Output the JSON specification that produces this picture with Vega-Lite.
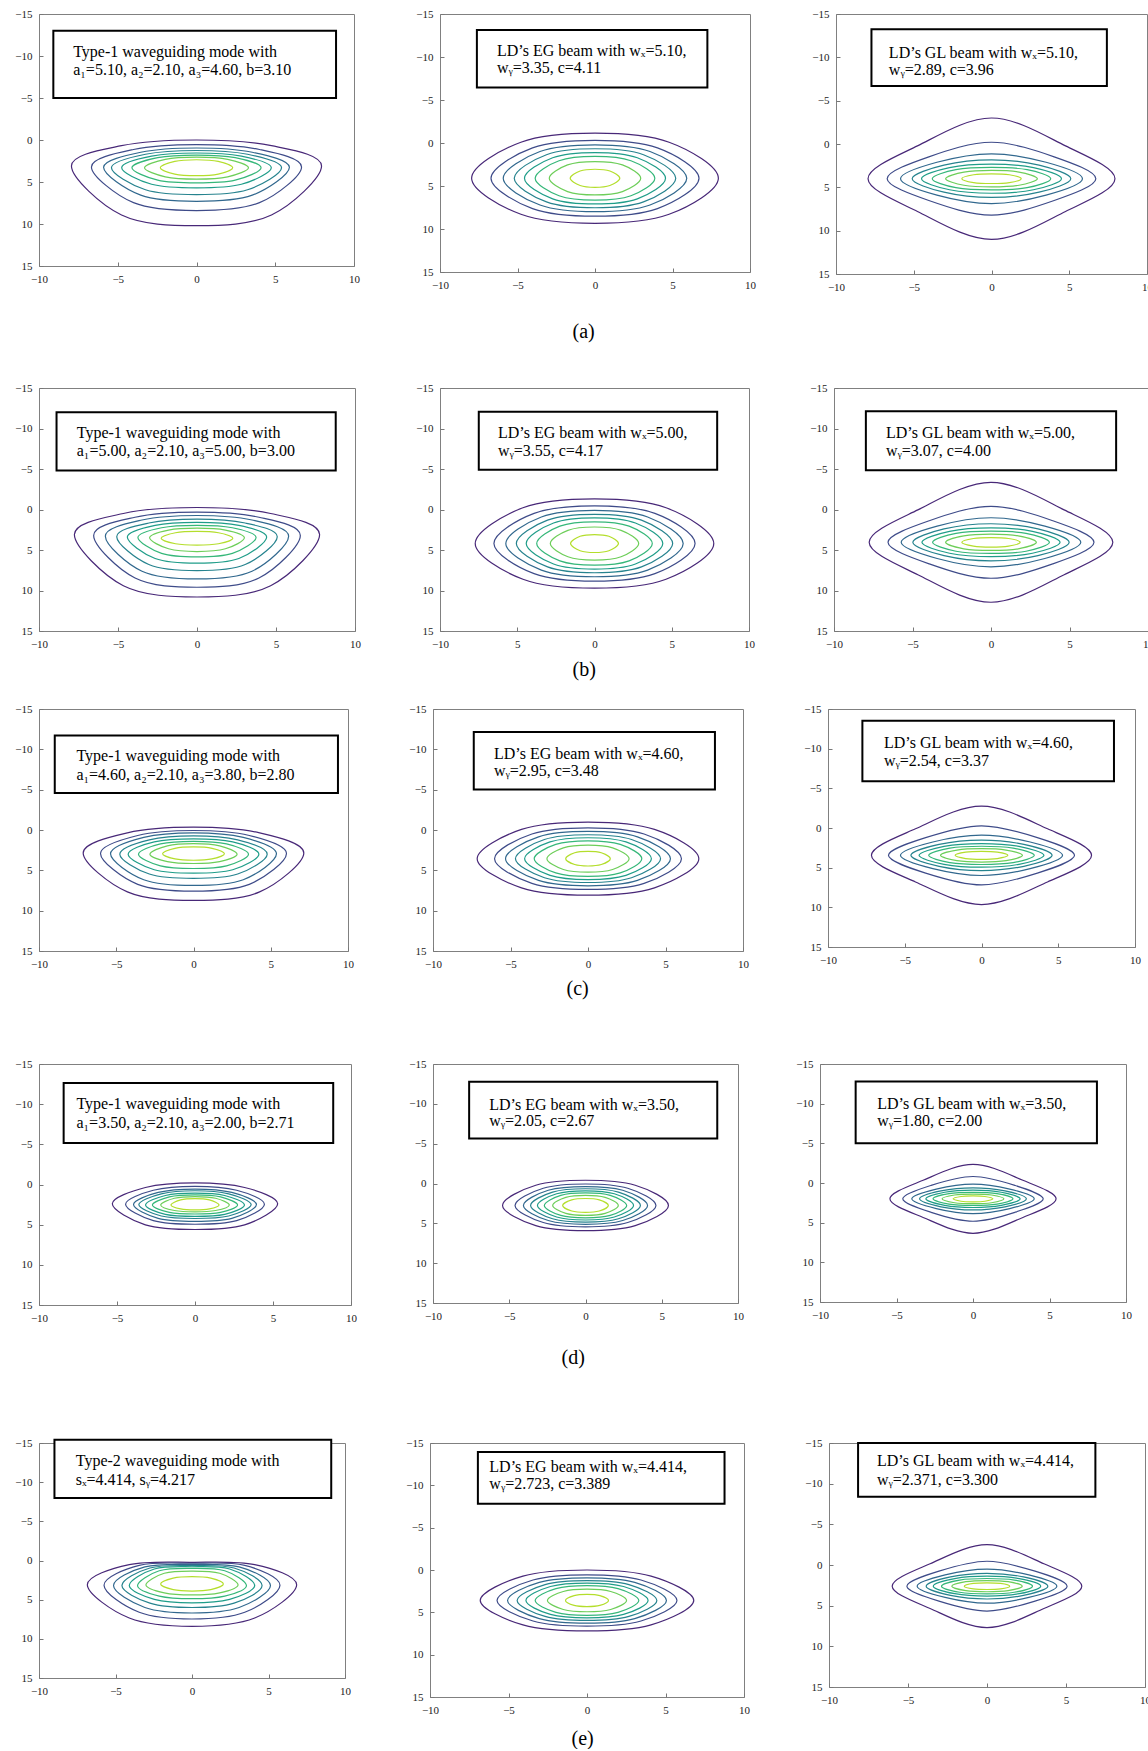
{
"$schema":"https://vega.github.io/schema/vega-lite/v6.json",
"padding":{"left":14,"top":7,"right":0,"bottom":0},
"background":"white",
"config":{
 "view":{"stroke":"#808080","strokeWidth":1},
 "axis":{"domain":false,"grid":false,"tickSize":-4,"tickColor":"#777","labelPadding":11,"labelFont":"Liberation Serif","labelFontSize":11,"labelColor":"#222","labelFlush":false,"labelOverlap":false,"labelBound":false},
 "title":{"font":"Liberation Serif","fontSize":20,"fontWeight":"normal","color":"#000","anchor":"middle"}
},
"datasets":{
"k":[
{"p":"a1","l":0,"x":7.94,"y":3.1},{"p":"a1","l":0,"x":4.76,"y":8.92},{"p":"a1","l":0,"x":0,"y":10.2},{"p":"a1","l":0,"x":-4.76,"y":8.92},{"p":"a1","l":0,"x":-7.94,"y":3.1},{"p":"a1","l":0,"x":-4.76,"y":0.68},{"p":"a1","l":0,"x":0,"y":0},{"p":"a1","l":0,"x":4.76,"y":0.68},
{"p":"a1","l":1,"x":6.67,"y":3.2},{"p":"a1","l":1,"x":4.0,"y":7.46},{"p":"a1","l":1,"x":0,"y":8.4},{"p":"a1","l":1,"x":-4.0,"y":7.46},{"p":"a1","l":1,"x":-6.67,"y":3.2},{"p":"a1","l":1,"x":-4.0,"y":1.13},{"p":"a1","l":1,"x":0,"y":0.55},{"p":"a1","l":1,"x":4.0,"y":1.13},
{"p":"a1","l":2,"x":5.9,"y":3.25},{"p":"a1","l":2,"x":3.54,"y":6.57},{"p":"a1","l":2,"x":0,"y":7.3},{"p":"a1","l":2,"x":-3.54,"y":6.57},{"p":"a1","l":2,"x":-5.9,"y":3.25},{"p":"a1","l":2,"x":-3.54,"y":1.46},{"p":"a1","l":2,"x":0,"y":0.95},{"p":"a1","l":2,"x":3.54,"y":1.46},
{"p":"a1","l":3,"x":5.4,"y":3.3},{"p":"a1","l":3,"x":3.24,"y":5.92},{"p":"a1","l":3,"x":0,"y":6.5},{"p":"a1","l":3,"x":-3.24,"y":5.92},{"p":"a1","l":3,"x":-5.4,"y":3.3},{"p":"a1","l":3,"x":-3.24,"y":1.7},{"p":"a1","l":3,"x":0,"y":1.25},{"p":"a1","l":3,"x":3.24,"y":1.7},
{"p":"a1","l":4,"x":4.75,"y":3.3},{"p":"a1","l":4,"x":2.85,"y":5.27},{"p":"a1","l":4,"x":0,"y":5.7},{"p":"a1","l":4,"x":-2.85,"y":5.27},{"p":"a1","l":4,"x":-4.75,"y":3.3},{"p":"a1","l":4,"x":-2.85,"y":1.93},{"p":"a1","l":4,"x":0,"y":1.55},{"p":"a1","l":4,"x":2.85,"y":1.93},
{"p":"a1","l":5,"x":4.1,"y":3.3},{"p":"a1","l":5,"x":2.46,"y":4.78},{"p":"a1","l":5,"x":0,"y":5.1},{"p":"a1","l":5,"x":-2.46,"y":4.78},{"p":"a1","l":5,"x":-4.1,"y":3.3},{"p":"a1","l":5,"x":-2.46,"y":2.1},{"p":"a1","l":5,"x":0,"y":1.8},{"p":"a1","l":5,"x":2.46,"y":2.1},
{"p":"a1","l":6,"x":3.3,"y":3.3},{"p":"a1","l":6,"x":1.98,"y":4.38},{"p":"a1","l":6,"x":0,"y":4.65},{"p":"a1","l":6,"x":-1.98,"y":4.38},{"p":"a1","l":6,"x":-3.3,"y":3.3},{"p":"a1","l":6,"x":-1.98,"y":2.3},{"p":"a1","l":6,"x":0,"y":2.05},{"p":"a1","l":6,"x":1.98,"y":2.3},
{"p":"a1","l":7,"x":2.3,"y":3.3},{"p":"a1","l":7,"x":1.38,"y":4.06},{"p":"a1","l":7,"x":0,"y":4.25},{"p":"a1","l":7,"x":-1.38,"y":4.06},{"p":"a1","l":7,"x":-2.3,"y":3.3},{"p":"a1","l":7,"x":-1.38,"y":2.54},{"p":"a1","l":7,"x":0,"y":2.35},{"p":"a1","l":7,"x":1.38,"y":2.54},
{"p":"a2","l":0,"x":7.96,"y":4.1},{"p":"a2","l":0,"x":4.78,"y":8.29},{"p":"a2","l":0,"x":0,"y":9.34},{"p":"a2","l":0,"x":-4.78,"y":8.29},{"p":"a2","l":0,"x":-7.96,"y":4.1},{"p":"a2","l":0,"x":-4.78,"y":-0.09},{"p":"a2","l":0,"x":0,"y":-1.14},{"p":"a2","l":0,"x":4.78,"y":-0.09},
{"p":"a2","l":1,"x":6.71,"y":4.1},{"p":"a2","l":1,"x":4.03,"y":7.63},{"p":"a2","l":1,"x":0,"y":8.51},{"p":"a2","l":1,"x":-4.03,"y":7.63},{"p":"a2","l":1,"x":-6.71,"y":4.1},{"p":"a2","l":1,"x":-4.03,"y":0.57},{"p":"a2","l":1,"x":0,"y":-0.31},{"p":"a2","l":1,"x":4.03,"y":0.57},
{"p":"a2","l":2,"x":5.92,"y":4.1},{"p":"a2","l":2,"x":3.55,"y":7.21},{"p":"a2","l":2,"x":0,"y":7.99},{"p":"a2","l":2,"x":-3.55,"y":7.21},{"p":"a2","l":2,"x":-5.92,"y":4.1},{"p":"a2","l":2,"x":-3.55,"y":0.99},{"p":"a2","l":2,"x":0,"y":0.21},{"p":"a2","l":2,"x":3.55,"y":0.99},
{"p":"a2","l":3,"x":5.21,"y":4.1},{"p":"a2","l":3,"x":3.13,"y":6.84},{"p":"a2","l":3,"x":0,"y":7.53},{"p":"a2","l":3,"x":-3.13,"y":6.84},{"p":"a2","l":3,"x":-5.21,"y":4.1},{"p":"a2","l":3,"x":-3.13,"y":1.36},{"p":"a2","l":3,"x":0,"y":0.67},{"p":"a2","l":3,"x":3.13,"y":1.36},
{"p":"a2","l":4,"x":4.55,"y":4.1},{"p":"a2","l":4,"x":2.73,"y":6.49},{"p":"a2","l":4,"x":0,"y":7.09},{"p":"a2","l":4,"x":-2.73,"y":6.49},{"p":"a2","l":4,"x":-4.55,"y":4.1},{"p":"a2","l":4,"x":-2.73,"y":1.71},{"p":"a2","l":4,"x":0,"y":1.11},{"p":"a2","l":4,"x":2.73,"y":1.71},
{"p":"a2","l":5,"x":3.86,"y":4.1},{"p":"a2","l":5,"x":2.32,"y":6.13},{"p":"a2","l":5,"x":0,"y":6.64},{"p":"a2","l":5,"x":-2.32,"y":6.13},{"p":"a2","l":5,"x":-3.86,"y":4.1},{"p":"a2","l":5,"x":-2.32,"y":2.07},{"p":"a2","l":5,"x":0,"y":1.56},{"p":"a2","l":5,"x":2.32,"y":2.07},
{"p":"a2","l":6,"x":2.95,"y":4.1},{"p":"a2","l":6,"x":1.77,"y":5.65},{"p":"a2","l":6,"x":0,"y":6.04},{"p":"a2","l":6,"x":-1.77,"y":5.65},{"p":"a2","l":6,"x":-2.95,"y":4.1},{"p":"a2","l":6,"x":-1.77,"y":2.55},{"p":"a2","l":6,"x":0,"y":2.16},{"p":"a2","l":6,"x":1.77,"y":2.55},
{"p":"a2","l":7,"x":1.6,"y":4.1},{"p":"a2","l":7,"x":0.96,"y":4.94},{"p":"a2","l":7,"x":0,"y":5.15},{"p":"a2","l":7,"x":-0.96,"y":4.94},{"p":"a2","l":7,"x":-1.6,"y":4.1},{"p":"a2","l":7,"x":-0.96,"y":3.26},{"p":"a2","l":7,"x":0,"y":3.05},{"p":"a2","l":7,"x":0.96,"y":3.26},
{"p":"a3","l":0,"x":7.94,"y":4},{"p":"a3","l":0,"x":4.76,"y":7.78},{"p":"a3","l":0,"x":0,"y":11},{"p":"a3","l":0,"x":-4.76,"y":7.78},{"p":"a3","l":0,"x":-7.94,"y":4},{"p":"a3","l":0,"x":-4.76,"y":0.22},{"p":"a3","l":0,"x":0,"y":-3},{"p":"a3","l":0,"x":4.76,"y":0.22},
{"p":"a3","l":1,"x":6.71,"y":4},{"p":"a3","l":1,"x":4.03,"y":6.52},{"p":"a3","l":1,"x":0,"y":8.2},{"p":"a3","l":1,"x":-4.03,"y":6.52},{"p":"a3","l":1,"x":-6.71,"y":4},{"p":"a3","l":1,"x":-4.03,"y":1.48},{"p":"a3","l":1,"x":0,"y":-0.2},{"p":"a3","l":1,"x":4.03,"y":1.48},
{"p":"a3","l":2,"x":5.85,"y":4},{"p":"a3","l":2,"x":3.51,"y":5.89},{"p":"a3","l":2,"x":0,"y":6.87},{"p":"a3","l":2,"x":-3.51,"y":5.89},{"p":"a3","l":2,"x":-5.85,"y":4},{"p":"a3","l":2,"x":-3.51,"y":2.11},{"p":"a3","l":2,"x":0,"y":1.13},{"p":"a3","l":2,"x":3.51,"y":2.11},
{"p":"a3","l":3,"x":5.1,"y":4},{"p":"a3","l":3,"x":3.06,"y":5.56},{"p":"a3","l":3,"x":0,"y":6.17},{"p":"a3","l":3,"x":-3.06,"y":5.56},{"p":"a3","l":3,"x":-5.1,"y":4},{"p":"a3","l":3,"x":-3.06,"y":2.44},{"p":"a3","l":3,"x":0,"y":1.83},{"p":"a3","l":3,"x":3.06,"y":2.44},
{"p":"a3","l":4,"x":4.5,"y":4},{"p":"a3","l":4,"x":2.7,"y":5.28},{"p":"a3","l":4,"x":0,"y":5.68},{"p":"a3","l":4,"x":-2.7,"y":5.28},{"p":"a3","l":4,"x":-4.5,"y":4},{"p":"a3","l":4,"x":-2.7,"y":2.72},{"p":"a3","l":4,"x":0,"y":2.32},{"p":"a3","l":4,"x":2.7,"y":2.72},
{"p":"a3","l":5,"x":3.81,"y":4},{"p":"a3","l":5,"x":2.29,"y":5.04},{"p":"a3","l":5,"x":0,"y":5.3},{"p":"a3","l":5,"x":-2.29,"y":5.04},{"p":"a3","l":5,"x":-3.81,"y":4},{"p":"a3","l":5,"x":-2.29,"y":2.96},{"p":"a3","l":5,"x":0,"y":2.7},{"p":"a3","l":5,"x":2.29,"y":2.96},
{"p":"a3","l":6,"x":2.95,"y":4},{"p":"a3","l":6,"x":1.77,"y":4.76},{"p":"a3","l":6,"x":0,"y":4.95},{"p":"a3","l":6,"x":-1.77,"y":4.76},{"p":"a3","l":6,"x":-2.95,"y":4},{"p":"a3","l":6,"x":-1.77,"y":3.24},{"p":"a3","l":6,"x":0,"y":3.05},{"p":"a3","l":6,"x":1.77,"y":3.24},
{"p":"a3","l":7,"x":1.91,"y":4},{"p":"a3","l":7,"x":1.15,"y":4.45},{"p":"a3","l":7,"x":0,"y":4.56},{"p":"a3","l":7,"x":-1.15,"y":4.45},{"p":"a3","l":7,"x":-1.91,"y":4},{"p":"a3","l":7,"x":-1.15,"y":3.55},{"p":"a3","l":7,"x":0,"y":3.44},{"p":"a3","l":7,"x":1.15,"y":3.55},
{"p":"b1","l":0,"x":7.76,"y":3.1},{"p":"b1","l":0,"x":4.66,"y":9.41},{"p":"b1","l":0,"x":0,"y":10.8},{"p":"b1","l":0,"x":-4.66,"y":9.41},{"p":"b1","l":0,"x":-7.76,"y":3.1},{"p":"b1","l":0,"x":-4.66,"y":0.49},{"p":"b1","l":0,"x":0,"y":-0.25},{"p":"b1","l":0,"x":4.66,"y":0.49},
{"p":"b1","l":1,"x":6.54,"y":3.2},{"p":"b1","l":1,"x":3.92,"y":8.45},{"p":"b1","l":1,"x":0,"y":9.6},{"p":"b1","l":1,"x":-3.92,"y":8.45},{"p":"b1","l":1,"x":-6.54,"y":3.2},{"p":"b1","l":1,"x":-3.92,"y":0.96},{"p":"b1","l":1,"x":0,"y":0.33},{"p":"b1","l":1,"x":3.92,"y":0.96},
{"p":"b1","l":2,"x":5.8,"y":3.3},{"p":"b1","l":2,"x":3.48,"y":7.62},{"p":"b1","l":2,"x":0,"y":8.57},{"p":"b1","l":2,"x":-3.48,"y":7.62},{"p":"b1","l":2,"x":-5.8,"y":3.3},{"p":"b1","l":2,"x":-3.48,"y":1.3},{"p":"b1","l":2,"x":0,"y":0.74},{"p":"b1","l":2,"x":3.48,"y":1.3},
{"p":"b1","l":3,"x":5.08,"y":3.35},{"p":"b1","l":3,"x":3.05,"y":6.79},{"p":"b1","l":3,"x":0,"y":7.55},{"p":"b1","l":3,"x":-3.05,"y":6.79},{"p":"b1","l":3,"x":-5.08,"y":3.35},{"p":"b1","l":3,"x":-3.05,"y":1.67},{"p":"b1","l":3,"x":0,"y":1.2},{"p":"b1","l":3,"x":3.05,"y":1.67},
{"p":"b1","l":4,"x":4.41,"y":3.4},{"p":"b1","l":4,"x":2.65,"y":6.05},{"p":"b1","l":4,"x":0,"y":6.63},{"p":"b1","l":4,"x":-2.65,"y":6.05},{"p":"b1","l":4,"x":-4.41,"y":3.4},{"p":"b1","l":4,"x":-2.65,"y":1.96},{"p":"b1","l":4,"x":0,"y":1.6},{"p":"b1","l":4,"x":2.65,"y":1.96},
{"p":"b1","l":5,"x":3.74,"y":3.45},{"p":"b1","l":5,"x":2.24,"y":5.42},{"p":"b1","l":5,"x":0,"y":5.85},{"p":"b1","l":5,"x":-2.24,"y":5.42},{"p":"b1","l":5,"x":-3.74,"y":3.45},{"p":"b1","l":5,"x":-2.24,"y":2.25},{"p":"b1","l":5,"x":0,"y":1.95},{"p":"b1","l":5,"x":2.24,"y":2.25},
{"p":"b1","l":6,"x":3.0,"y":3.5},{"p":"b1","l":6,"x":1.8,"y":4.85},{"p":"b1","l":6,"x":0,"y":5.19},{"p":"b1","l":6,"x":-1.8,"y":4.85},{"p":"b1","l":6,"x":-3.0,"y":3.5},{"p":"b1","l":6,"x":-1.8,"y":2.54},{"p":"b1","l":6,"x":0,"y":2.3},{"p":"b1","l":6,"x":1.8,"y":2.54},
{"p":"b1","l":7,"x":2.27,"y":3.55},{"p":"b1","l":7,"x":1.36,"y":4.23},{"p":"b1","l":7,"x":0,"y":4.4},{"p":"b1","l":7,"x":-1.36,"y":4.23},{"p":"b1","l":7,"x":-2.27,"y":3.55},{"p":"b1","l":7,"x":-1.36,"y":2.87},{"p":"b1","l":7,"x":0,"y":2.7},{"p":"b1","l":7,"x":1.36,"y":2.87},
{"p":"b2","l":0,"x":7.72,"y":4.2},{"p":"b2","l":0,"x":4.63,"y":8.61},{"p":"b2","l":0,"x":0,"y":9.71},{"p":"b2","l":0,"x":-4.63,"y":8.61},{"p":"b2","l":0,"x":-7.72,"y":4.2},{"p":"b2","l":0,"x":-4.63,"y":-0.21},{"p":"b2","l":0,"x":0,"y":-1.31},{"p":"b2","l":0,"x":4.63,"y":-0.21},
{"p":"b2","l":1,"x":6.51,"y":4.2},{"p":"b2","l":1,"x":3.91,"y":7.92},{"p":"b2","l":1,"x":0,"y":8.85},{"p":"b2","l":1,"x":-3.91,"y":7.92},{"p":"b2","l":1,"x":-6.51,"y":4.2},{"p":"b2","l":1,"x":-3.91,"y":0.48},{"p":"b2","l":1,"x":0,"y":-0.45},{"p":"b2","l":1,"x":3.91,"y":0.48},
{"p":"b2","l":2,"x":5.74,"y":4.2},{"p":"b2","l":2,"x":3.44,"y":7.48},{"p":"b2","l":2,"x":0,"y":8.3},{"p":"b2","l":2,"x":-3.44,"y":7.48},{"p":"b2","l":2,"x":-5.74,"y":4.2},{"p":"b2","l":2,"x":-3.44,"y":0.92},{"p":"b2","l":2,"x":0,"y":0.1},{"p":"b2","l":2,"x":3.44,"y":0.92},
{"p":"b2","l":3,"x":5.06,"y":4.2},{"p":"b2","l":3,"x":3.04,"y":7.09},{"p":"b2","l":3,"x":0,"y":7.81},{"p":"b2","l":3,"x":-3.04,"y":7.09},{"p":"b2","l":3,"x":-5.06,"y":4.2},{"p":"b2","l":3,"x":-3.04,"y":1.31},{"p":"b2","l":3,"x":0,"y":0.59},{"p":"b2","l":3,"x":3.04,"y":1.31},
{"p":"b2","l":4,"x":4.42,"y":4.2},{"p":"b2","l":4,"x":2.65,"y":6.73},{"p":"b2","l":4,"x":0,"y":7.36},{"p":"b2","l":4,"x":-2.65,"y":6.73},{"p":"b2","l":4,"x":-4.42,"y":4.2},{"p":"b2","l":4,"x":-2.65,"y":1.67},{"p":"b2","l":4,"x":0,"y":1.04},{"p":"b2","l":4,"x":2.65,"y":1.67},
{"p":"b2","l":5,"x":3.74,"y":4.2},{"p":"b2","l":5,"x":2.24,"y":6.34},{"p":"b2","l":5,"x":0,"y":6.87},{"p":"b2","l":5,"x":-2.24,"y":6.34},{"p":"b2","l":5,"x":-3.74,"y":4.2},{"p":"b2","l":5,"x":-2.24,"y":2.06},{"p":"b2","l":5,"x":0,"y":1.53},{"p":"b2","l":5,"x":2.24,"y":2.06},
{"p":"b2","l":6,"x":2.86,"y":4.2},{"p":"b2","l":6,"x":1.72,"y":5.83},{"p":"b2","l":6,"x":0,"y":6.24},{"p":"b2","l":6,"x":-1.72,"y":5.83},{"p":"b2","l":6,"x":-2.86,"y":4.2},{"p":"b2","l":6,"x":-1.72,"y":2.57},{"p":"b2","l":6,"x":0,"y":2.16},{"p":"b2","l":6,"x":1.72,"y":2.57},
{"p":"b2","l":7,"x":1.55,"y":4.2},{"p":"b2","l":7,"x":0.93,"y":5.09},{"p":"b2","l":7,"x":0,"y":5.31},{"p":"b2","l":7,"x":-0.93,"y":5.09},{"p":"b2","l":7,"x":-1.55,"y":4.2},{"p":"b2","l":7,"x":-0.93,"y":3.31},{"p":"b2","l":7,"x":0,"y":3.09},{"p":"b2","l":7,"x":0.93,"y":3.31},
{"p":"b3","l":0,"x":7.76,"y":4.05},{"p":"b3","l":0,"x":4.66,"y":8.05},{"p":"b3","l":0,"x":0,"y":11.45},{"p":"b3","l":0,"x":-4.66,"y":8.05},{"p":"b3","l":0,"x":-7.76,"y":4.05},{"p":"b3","l":0,"x":-4.66,"y":0.05},{"p":"b3","l":0,"x":0,"y":-3.35},{"p":"b3","l":0,"x":4.66,"y":0.05},
{"p":"b3","l":1,"x":6.56,"y":4.05},{"p":"b3","l":1,"x":3.94,"y":6.71},{"p":"b3","l":1,"x":0,"y":8.49},{"p":"b3","l":1,"x":-3.94,"y":6.71},{"p":"b3","l":1,"x":-6.56,"y":4.05},{"p":"b3","l":1,"x":-3.94,"y":1.39},{"p":"b3","l":1,"x":0,"y":-0.39},{"p":"b3","l":1,"x":3.94,"y":1.39},
{"p":"b3","l":2,"x":5.72,"y":4.05},{"p":"b3","l":2,"x":3.43,"y":6.05},{"p":"b3","l":2,"x":0,"y":7.08},{"p":"b3","l":2,"x":-3.43,"y":6.05},{"p":"b3","l":2,"x":-5.72,"y":4.05},{"p":"b3","l":2,"x":-3.43,"y":2.05},{"p":"b3","l":2,"x":0,"y":1.02},{"p":"b3","l":2,"x":3.43,"y":2.05},
{"p":"b3","l":3,"x":4.98,"y":4.05},{"p":"b3","l":3,"x":2.99,"y":5.7},{"p":"b3","l":3,"x":0,"y":6.34},{"p":"b3","l":3,"x":-2.99,"y":5.7},{"p":"b3","l":3,"x":-4.98,"y":4.05},{"p":"b3","l":3,"x":-2.99,"y":2.4},{"p":"b3","l":3,"x":0,"y":1.76},{"p":"b3","l":3,"x":2.99,"y":2.4},
{"p":"b3","l":4,"x":4.4,"y":4.05},{"p":"b3","l":4,"x":2.64,"y":5.4},{"p":"b3","l":4,"x":0,"y":5.83},{"p":"b3","l":4,"x":-2.64,"y":5.4},{"p":"b3","l":4,"x":-4.4,"y":4.05},{"p":"b3","l":4,"x":-2.64,"y":2.7},{"p":"b3","l":4,"x":0,"y":2.27},{"p":"b3","l":4,"x":2.64,"y":2.7},
{"p":"b3","l":5,"x":3.72,"y":4.05},{"p":"b3","l":5,"x":2.23,"y":5.15},{"p":"b3","l":5,"x":0,"y":5.42},{"p":"b3","l":5,"x":-2.23,"y":5.15},{"p":"b3","l":5,"x":-3.72,"y":4.05},{"p":"b3","l":5,"x":-2.23,"y":2.95},{"p":"b3","l":5,"x":0,"y":2.68},{"p":"b3","l":5,"x":2.23,"y":2.95},
{"p":"b3","l":6,"x":2.89,"y":4.05},{"p":"b3","l":6,"x":1.73,"y":4.85},{"p":"b3","l":6,"x":0,"y":5.05},{"p":"b3","l":6,"x":-1.73,"y":4.85},{"p":"b3","l":6,"x":-2.89,"y":4.05},{"p":"b3","l":6,"x":-1.73,"y":3.25},{"p":"b3","l":6,"x":0,"y":3.05},{"p":"b3","l":6,"x":1.73,"y":3.25},
{"p":"b3","l":7,"x":1.86,"y":4.05},{"p":"b3","l":7,"x":1.12,"y":4.52},{"p":"b3","l":7,"x":0,"y":4.64},{"p":"b3","l":7,"x":-1.12,"y":4.52},{"p":"b3","l":7,"x":-1.86,"y":4.05},{"p":"b3","l":7,"x":-1.12,"y":3.58},{"p":"b3","l":7,"x":0,"y":3.46},{"p":"b3","l":7,"x":1.12,"y":3.58},
{"p":"c1","l":0,"x":7.14,"y":2.85},{"p":"c1","l":0,"x":4.28,"y":7.67},{"p":"c1","l":0,"x":0,"y":8.73},{"p":"c1","l":0,"x":-4.28,"y":7.67},{"p":"c1","l":0,"x":-7.14,"y":2.85},{"p":"c1","l":0,"x":-4.28,"y":0.35},{"p":"c1","l":0,"x":0,"y":-0.35},{"p":"c1","l":0,"x":4.28,"y":0.35},
{"p":"c1","l":1,"x":6.02,"y":2.9},{"p":"c1","l":1,"x":3.61,"y":6.74},{"p":"c1","l":1,"x":0,"y":7.58},{"p":"c1","l":1,"x":-3.61,"y":6.74},{"p":"c1","l":1,"x":-6.02,"y":2.9},{"p":"c1","l":1,"x":-3.61,"y":0.68},{"p":"c1","l":1,"x":0,"y":0.06},{"p":"c1","l":1,"x":3.61,"y":0.68},
{"p":"c1","l":2,"x":5.37,"y":2.95},{"p":"c1","l":2,"x":3.22,"y":6.16},{"p":"c1","l":2,"x":0,"y":6.87},{"p":"c1","l":2,"x":-3.22,"y":6.16},{"p":"c1","l":2,"x":-5.37,"y":2.95},{"p":"c1","l":2,"x":-3.22,"y":0.92},{"p":"c1","l":2,"x":0,"y":0.35},{"p":"c1","l":2,"x":3.22,"y":0.92},
{"p":"c1","l":3,"x":4.77,"y":3.0},{"p":"c1","l":3,"x":2.86,"y":5.46},{"p":"c1","l":3,"x":0,"y":6.0},{"p":"c1","l":3,"x":-2.86,"y":5.46},{"p":"c1","l":3,"x":-4.77,"y":3.0},{"p":"c1","l":3,"x":-2.86,"y":1.22},{"p":"c1","l":3,"x":0,"y":0.72},{"p":"c1","l":3,"x":2.86,"y":1.22},
{"p":"c1","l":4,"x":4.23,"y":3.0},{"p":"c1","l":4,"x":2.54,"y":4.93},{"p":"c1","l":4,"x":0,"y":5.35},{"p":"c1","l":4,"x":-2.54,"y":4.93},{"p":"c1","l":4,"x":-4.23,"y":3.0},{"p":"c1","l":4,"x":-2.54,"y":1.48},{"p":"c1","l":4,"x":0,"y":1.1},{"p":"c1","l":4,"x":2.54,"y":1.48},
{"p":"c1","l":5,"x":3.56,"y":3.0},{"p":"c1","l":5,"x":2.14,"y":4.45},{"p":"c1","l":5,"x":0,"y":4.77},{"p":"c1","l":5,"x":-2.14,"y":4.45},{"p":"c1","l":5,"x":-3.56,"y":3.0},{"p":"c1","l":5,"x":-2.14,"y":1.72},{"p":"c1","l":5,"x":0,"y":1.4},{"p":"c1","l":5,"x":2.14,"y":1.72},
{"p":"c1","l":6,"x":2.82,"y":3.0},{"p":"c1","l":6,"x":1.69,"y":3.92},{"p":"c1","l":6,"x":0,"y":4.15},{"p":"c1","l":6,"x":-1.69,"y":3.92},{"p":"c1","l":6,"x":-2.82,"y":3.0},{"p":"c1","l":6,"x":-1.69,"y":1.96},{"p":"c1","l":6,"x":0,"y":1.7},{"p":"c1","l":6,"x":1.69,"y":1.96},
{"p":"c1","l":7,"x":2.0,"y":2.95},{"p":"c1","l":7,"x":1.2,"y":3.59},{"p":"c1","l":7,"x":0,"y":3.75},{"p":"c1","l":7,"x":-1.2,"y":3.59},{"p":"c1","l":7,"x":-2.0,"y":2.95},{"p":"c1","l":7,"x":-1.2,"y":2.27},{"p":"c1","l":7,"x":0,"y":2.1},{"p":"c1","l":7,"x":1.2,"y":2.27},
{"p":"c2","l":0,"x":7.15,"y":3.55},{"p":"c2","l":0,"x":4.29,"y":7.17},{"p":"c2","l":0,"x":0,"y":8.08},{"p":"c2","l":0,"x":-4.29,"y":7.17},{"p":"c2","l":0,"x":-7.15,"y":3.55},{"p":"c2","l":0,"x":-4.29,"y":-0.07},{"p":"c2","l":0,"x":0,"y":-0.98},{"p":"c2","l":0,"x":4.29,"y":-0.07},
{"p":"c2","l":1,"x":6.03,"y":3.55},{"p":"c2","l":1,"x":3.62,"y":6.61},{"p":"c2","l":1,"x":0,"y":7.37},{"p":"c2","l":1,"x":-3.62,"y":6.61},{"p":"c2","l":1,"x":-6.03,"y":3.55},{"p":"c2","l":1,"x":-3.62,"y":0.49},{"p":"c2","l":1,"x":0,"y":-0.27},{"p":"c2","l":1,"x":3.62,"y":0.49},
{"p":"c2","l":2,"x":5.32,"y":3.55},{"p":"c2","l":2,"x":3.19,"y":6.25},{"p":"c2","l":2,"x":0,"y":6.92},{"p":"c2","l":2,"x":-3.19,"y":6.25},{"p":"c2","l":2,"x":-5.32,"y":3.55},{"p":"c2","l":2,"x":-3.19,"y":0.85},{"p":"c2","l":2,"x":0,"y":0.18},{"p":"c2","l":2,"x":3.19,"y":0.85},
{"p":"c2","l":3,"x":4.68,"y":3.55},{"p":"c2","l":3,"x":2.81,"y":5.92},{"p":"c2","l":3,"x":0,"y":6.51},{"p":"c2","l":3,"x":-2.81,"y":5.92},{"p":"c2","l":3,"x":-4.68,"y":3.55},{"p":"c2","l":3,"x":-2.81,"y":1.18},{"p":"c2","l":3,"x":0,"y":0.59},{"p":"c2","l":3,"x":2.81,"y":1.18},
{"p":"c2","l":4,"x":4.09,"y":3.55},{"p":"c2","l":4,"x":2.45,"y":5.62},{"p":"c2","l":4,"x":0,"y":6.14},{"p":"c2","l":4,"x":-2.45,"y":5.62},{"p":"c2","l":4,"x":-4.09,"y":3.55},{"p":"c2","l":4,"x":-2.45,"y":1.48},{"p":"c2","l":4,"x":0,"y":0.96},{"p":"c2","l":4,"x":2.45,"y":1.48},
{"p":"c2","l":5,"x":3.47,"y":3.55},{"p":"c2","l":5,"x":2.08,"y":5.31},{"p":"c2","l":5,"x":0,"y":5.75},{"p":"c2","l":5,"x":-2.08,"y":5.31},{"p":"c2","l":5,"x":-3.47,"y":3.55},{"p":"c2","l":5,"x":-2.08,"y":1.79},{"p":"c2","l":5,"x":0,"y":1.35},{"p":"c2","l":5,"x":2.08,"y":1.79},
{"p":"c2","l":6,"x":2.65,"y":3.55},{"p":"c2","l":6,"x":1.59,"y":4.89},{"p":"c2","l":6,"x":0,"y":5.23},{"p":"c2","l":6,"x":-1.59,"y":4.89},{"p":"c2","l":6,"x":-2.65,"y":3.55},{"p":"c2","l":6,"x":-1.59,"y":2.21},{"p":"c2","l":6,"x":0,"y":1.87},{"p":"c2","l":6,"x":1.59,"y":2.21},
{"p":"c2","l":7,"x":1.44,"y":3.55},{"p":"c2","l":7,"x":0.86,"y":4.28},{"p":"c2","l":7,"x":0,"y":4.46},{"p":"c2","l":7,"x":-0.86,"y":4.28},{"p":"c2","l":7,"x":-1.44,"y":3.55},{"p":"c2","l":7,"x":-0.86,"y":2.82},{"p":"c2","l":7,"x":0,"y":2.64},{"p":"c2","l":7,"x":0.86,"y":2.82},
{"p":"c3","l":0,"x":7.17,"y":3.45},{"p":"c3","l":0,"x":4.3,"y":6.8},{"p":"c3","l":0,"x":0,"y":9.65},{"p":"c3","l":0,"x":-4.3,"y":6.8},{"p":"c3","l":0,"x":-7.17,"y":3.45},{"p":"c3","l":0,"x":-4.3,"y":0.1},{"p":"c3","l":0,"x":0,"y":-2.75},{"p":"c3","l":0,"x":4.3,"y":0.1},
{"p":"c3","l":1,"x":6.06,"y":3.45},{"p":"c3","l":1,"x":3.64,"y":5.68},{"p":"c3","l":1,"x":0,"y":7.17},{"p":"c3","l":1,"x":-3.64,"y":5.68},{"p":"c3","l":1,"x":-6.06,"y":3.45},{"p":"c3","l":1,"x":-3.64,"y":1.22},{"p":"c3","l":1,"x":0,"y":-0.27},{"p":"c3","l":1,"x":3.64,"y":1.22},
{"p":"c3","l":2,"x":5.28,"y":3.45},{"p":"c3","l":2,"x":3.17,"y":5.13},{"p":"c3","l":2,"x":0,"y":5.99},{"p":"c3","l":2,"x":-3.17,"y":5.13},{"p":"c3","l":2,"x":-5.28,"y":3.45},{"p":"c3","l":2,"x":-3.17,"y":1.77},{"p":"c3","l":2,"x":0,"y":0.91},{"p":"c3","l":2,"x":3.17,"y":1.77},
{"p":"c3","l":3,"x":4.6,"y":3.45},{"p":"c3","l":3,"x":2.76,"y":4.83},{"p":"c3","l":3,"x":0,"y":5.37},{"p":"c3","l":3,"x":-2.76,"y":4.83},{"p":"c3","l":3,"x":-4.6,"y":3.45},{"p":"c3","l":3,"x":-2.76,"y":2.07},{"p":"c3","l":3,"x":0,"y":1.53},{"p":"c3","l":3,"x":2.76,"y":2.07},
{"p":"c3","l":4,"x":4.07,"y":3.45},{"p":"c3","l":4,"x":2.44,"y":4.58},{"p":"c3","l":4,"x":0,"y":4.94},{"p":"c3","l":4,"x":-2.44,"y":4.58},{"p":"c3","l":4,"x":-4.07,"y":3.45},{"p":"c3","l":4,"x":-2.44,"y":2.32},{"p":"c3","l":4,"x":0,"y":1.96},{"p":"c3","l":4,"x":2.44,"y":2.32},
{"p":"c3","l":5,"x":3.44,"y":3.45},{"p":"c3","l":5,"x":2.06,"y":4.37},{"p":"c3","l":5,"x":0,"y":4.6},{"p":"c3","l":5,"x":-2.06,"y":4.37},{"p":"c3","l":5,"x":-3.44,"y":3.45},{"p":"c3","l":5,"x":-2.06,"y":2.53},{"p":"c3","l":5,"x":0,"y":2.3},{"p":"c3","l":5,"x":2.06,"y":2.53},
{"p":"c3","l":6,"x":2.67,"y":3.45},{"p":"c3","l":6,"x":1.6,"y":4.12},{"p":"c3","l":6,"x":0,"y":4.29},{"p":"c3","l":6,"x":-1.6,"y":4.12},{"p":"c3","l":6,"x":-2.67,"y":3.45},{"p":"c3","l":6,"x":-1.6,"y":2.78},{"p":"c3","l":6,"x":0,"y":2.61},{"p":"c3","l":6,"x":1.6,"y":2.78},
{"p":"c3","l":7,"x":1.72,"y":3.45},{"p":"c3","l":7,"x":1.03,"y":3.85},{"p":"c3","l":7,"x":0,"y":3.95},{"p":"c3","l":7,"x":-1.03,"y":3.85},{"p":"c3","l":7,"x":-1.72,"y":3.45},{"p":"c3","l":7,"x":-1.03,"y":3.05},{"p":"c3","l":7,"x":0,"y":2.95},{"p":"c3","l":7,"x":1.03,"y":3.05},
{"p":"d1","l":0,"x":5.3,"y":2.4},{"p":"d1","l":0,"x":3.18,"y":5.02},{"p":"d1","l":0,"x":0,"y":5.6},{"p":"d1","l":0,"x":-3.18,"y":5.02},{"p":"d1","l":0,"x":-5.3,"y":2.4},{"p":"d1","l":0,"x":-3.18,"y":0.37},{"p":"d1","l":0,"x":0,"y":-0.2},{"p":"d1","l":0,"x":3.18,"y":0.37},
{"p":"d1","l":1,"x":4.45,"y":2.45},{"p":"d1","l":1,"x":2.67,"y":4.5},{"p":"d1","l":1,"x":0,"y":4.95},{"p":"d1","l":1,"x":-2.67,"y":4.5},{"p":"d1","l":1,"x":-4.45,"y":2.45},{"p":"d1","l":1,"x":-2.67,"y":0.72},{"p":"d1","l":1,"x":0,"y":0.23},{"p":"d1","l":1,"x":2.67,"y":0.72},
{"p":"d1","l":2,"x":3.94,"y":2.5},{"p":"d1","l":2,"x":2.36,"y":4.21},{"p":"d1","l":2,"x":0,"y":4.58},{"p":"d1","l":2,"x":-2.36,"y":4.21},{"p":"d1","l":2,"x":-3.94,"y":2.5},{"p":"d1","l":2,"x":-2.36,"y":0.99},{"p":"d1","l":2,"x":0,"y":0.57},{"p":"d1","l":2,"x":2.36,"y":0.99},
{"p":"d1","l":3,"x":3.6,"y":2.5},{"p":"d1","l":3,"x":2.16,"y":3.92},{"p":"d1","l":3,"x":0,"y":4.23},{"p":"d1","l":3,"x":-2.16,"y":3.92},{"p":"d1","l":3,"x":-3.6,"y":2.5},{"p":"d1","l":3,"x":-2.16,"y":1.16},{"p":"d1","l":3,"x":0,"y":0.78},{"p":"d1","l":3,"x":2.16,"y":1.16},
{"p":"d1","l":4,"x":3.17,"y":2.55},{"p":"d1","l":4,"x":1.9,"y":3.71},{"p":"d1","l":4,"x":0,"y":3.96},{"p":"d1","l":4,"x":-1.9,"y":3.71},{"p":"d1","l":4,"x":-3.17,"y":2.55},{"p":"d1","l":4,"x":-1.9,"y":1.37},{"p":"d1","l":4,"x":0,"y":1.08},{"p":"d1","l":4,"x":1.9,"y":1.37},
{"p":"d1","l":5,"x":2.73,"y":2.55},{"p":"d1","l":5,"x":1.64,"y":3.47},{"p":"d1","l":5,"x":0,"y":3.67},{"p":"d1","l":5,"x":-1.64,"y":3.47},{"p":"d1","l":5,"x":-2.73,"y":2.55},{"p":"d1","l":5,"x":-1.64,"y":1.54},{"p":"d1","l":5,"x":0,"y":1.29},{"p":"d1","l":5,"x":1.64,"y":1.54},
{"p":"d1","l":6,"x":2.2,"y":2.55},{"p":"d1","l":6,"x":1.32,"y":3.24},{"p":"d1","l":6,"x":0,"y":3.41},{"p":"d1","l":6,"x":-1.32,"y":3.24},{"p":"d1","l":6,"x":-2.2,"y":2.55},{"p":"d1","l":6,"x":-1.32,"y":1.71},{"p":"d1","l":6,"x":0,"y":1.5},{"p":"d1","l":6,"x":1.32,"y":1.71},
{"p":"d1","l":7,"x":1.54,"y":2.55},{"p":"d1","l":7,"x":0.92,"y":3.04},{"p":"d1","l":7,"x":0,"y":3.16},{"p":"d1","l":7,"x":-0.92,"y":3.04},{"p":"d1","l":7,"x":-1.54,"y":2.55},{"p":"d1","l":7,"x":-0.92,"y":1.91},{"p":"d1","l":7,"x":0,"y":1.75},{"p":"d1","l":7,"x":0.92,"y":1.91},
{"p":"d2","l":0,"x":5.44,"y":2.75},{"p":"d2","l":0,"x":3.26,"y":5.28},{"p":"d2","l":0,"x":0,"y":5.91},{"p":"d2","l":0,"x":-3.26,"y":5.28},{"p":"d2","l":0,"x":-5.44,"y":2.75},{"p":"d2","l":0,"x":-3.26,"y":0.22},{"p":"d2","l":0,"x":0,"y":-0.41},{"p":"d2","l":0,"x":3.26,"y":0.22},
{"p":"d2","l":1,"x":4.62,"y":2.75},{"p":"d2","l":1,"x":2.77,"y":4.9},{"p":"d2","l":1,"x":0,"y":5.44},{"p":"d2","l":1,"x":-2.77,"y":4.9},{"p":"d2","l":1,"x":-4.62,"y":2.75},{"p":"d2","l":1,"x":-2.77,"y":0.6},{"p":"d2","l":1,"x":0,"y":0.06},{"p":"d2","l":1,"x":2.77,"y":0.6},
{"p":"d2","l":2,"x":4.07,"y":2.75},{"p":"d2","l":2,"x":2.44,"y":4.65},{"p":"d2","l":2,"x":0,"y":5.12},{"p":"d2","l":2,"x":-2.44,"y":4.65},{"p":"d2","l":2,"x":-4.07,"y":2.75},{"p":"d2","l":2,"x":-2.44,"y":0.85},{"p":"d2","l":2,"x":0,"y":0.38},{"p":"d2","l":2,"x":2.44,"y":0.85},
{"p":"d2","l":3,"x":3.6,"y":2.75},{"p":"d2","l":3,"x":2.16,"y":4.42},{"p":"d2","l":3,"x":0,"y":4.84},{"p":"d2","l":3,"x":-2.16,"y":4.42},{"p":"d2","l":3,"x":-3.6,"y":2.75},{"p":"d2","l":3,"x":-2.16,"y":1.08},{"p":"d2","l":3,"x":0,"y":0.66},{"p":"d2","l":3,"x":2.16,"y":1.08},
{"p":"d2","l":4,"x":3.15,"y":2.75},{"p":"d2","l":4,"x":1.89,"y":4.21},{"p":"d2","l":4,"x":0,"y":4.58},{"p":"d2","l":4,"x":-1.89,"y":4.21},{"p":"d2","l":4,"x":-3.15,"y":2.75},{"p":"d2","l":4,"x":-1.89,"y":1.29},{"p":"d2","l":4,"x":0,"y":0.92},{"p":"d2","l":4,"x":1.89,"y":1.29},
{"p":"d2","l":5,"x":2.7,"y":2.75},{"p":"d2","l":5,"x":1.62,"y":4.01},{"p":"d2","l":5,"x":0,"y":4.32},{"p":"d2","l":5,"x":-1.62,"y":4.01},{"p":"d2","l":5,"x":-2.7,"y":2.75},{"p":"d2","l":5,"x":-1.62,"y":1.49},{"p":"d2","l":5,"x":0,"y":1.18},{"p":"d2","l":5,"x":1.62,"y":1.49},
{"p":"d2","l":6,"x":2.15,"y":2.75},{"p":"d2","l":6,"x":1.29,"y":3.75},{"p":"d2","l":6,"x":0,"y":4.0},{"p":"d2","l":6,"x":-1.29,"y":3.75},{"p":"d2","l":6,"x":-2.15,"y":2.75},{"p":"d2","l":6,"x":-1.29,"y":1.75},{"p":"d2","l":6,"x":0,"y":1.5},{"p":"d2","l":6,"x":1.29,"y":1.75},
{"p":"d2","l":7,"x":1.5,"y":2.75},{"p":"d2","l":7,"x":0.9,"y":3.45},{"p":"d2","l":7,"x":0,"y":3.62},{"p":"d2","l":7,"x":-0.9,"y":3.45},{"p":"d2","l":7,"x":-1.5,"y":2.75},{"p":"d2","l":7,"x":-0.9,"y":2.05},{"p":"d2","l":7,"x":0,"y":1.88},{"p":"d2","l":7,"x":0.9,"y":2.05},
{"p":"d3","l":0,"x":5.43,"y":2},{"p":"d3","l":0,"x":3.26,"y":4.34},{"p":"d3","l":0,"x":0,"y":6.34},{"p":"d3","l":0,"x":-3.26,"y":4.34},{"p":"d3","l":0,"x":-5.43,"y":2},{"p":"d3","l":0,"x":-3.26,"y":-0.34},{"p":"d3","l":0,"x":0,"y":-2.34},{"p":"d3","l":0,"x":3.26,"y":-0.34},
{"p":"d3","l":1,"x":4.59,"y":2},{"p":"d3","l":1,"x":2.75,"y":3.69},{"p":"d3","l":1,"x":0,"y":4.82},{"p":"d3","l":1,"x":-2.75,"y":3.69},{"p":"d3","l":1,"x":-4.59,"y":2},{"p":"d3","l":1,"x":-2.75,"y":0.31},{"p":"d3","l":1,"x":0,"y":-0.82},{"p":"d3","l":1,"x":2.75,"y":0.31},
{"p":"d3","l":2,"x":4.0,"y":2},{"p":"d3","l":2,"x":2.4,"y":3.23},{"p":"d3","l":2,"x":0,"y":3.87},{"p":"d3","l":2,"x":-2.4,"y":3.23},{"p":"d3","l":2,"x":-4.0,"y":2},{"p":"d3","l":2,"x":-2.4,"y":0.77},{"p":"d3","l":2,"x":0,"y":0.13},{"p":"d3","l":2,"x":2.4,"y":0.77},
{"p":"d3","l":3,"x":3.49,"y":2},{"p":"d3","l":3,"x":2.09,"y":3.0},{"p":"d3","l":3,"x":0,"y":3.39},{"p":"d3","l":3,"x":-2.09,"y":3.0},{"p":"d3","l":3,"x":-3.49,"y":2},{"p":"d3","l":3,"x":-2.09,"y":1.0},{"p":"d3","l":3,"x":0,"y":0.61},{"p":"d3","l":3,"x":2.09,"y":1.0},
{"p":"d3","l":4,"x":3.08,"y":2},{"p":"d3","l":4,"x":1.85,"y":2.83},{"p":"d3","l":4,"x":0,"y":3.09},{"p":"d3","l":4,"x":-1.85,"y":2.83},{"p":"d3","l":4,"x":-3.08,"y":2},{"p":"d3","l":4,"x":-1.85,"y":1.17},{"p":"d3","l":4,"x":0,"y":0.91},{"p":"d3","l":4,"x":1.85,"y":1.17},
{"p":"d3","l":5,"x":2.61,"y":2},{"p":"d3","l":5,"x":1.57,"y":2.66},{"p":"d3","l":5,"x":0,"y":2.82},{"p":"d3","l":5,"x":-1.57,"y":2.66},{"p":"d3","l":5,"x":-2.61,"y":2},{"p":"d3","l":5,"x":-1.57,"y":1.34},{"p":"d3","l":5,"x":0,"y":1.18},{"p":"d3","l":5,"x":1.57,"y":1.34},
{"p":"d3","l":6,"x":2.02,"y":2},{"p":"d3","l":6,"x":1.21,"y":2.49},{"p":"d3","l":6,"x":0,"y":2.61},{"p":"d3","l":6,"x":-1.21,"y":2.49},{"p":"d3","l":6,"x":-2.02,"y":2},{"p":"d3","l":6,"x":-1.21,"y":1.51},{"p":"d3","l":6,"x":0,"y":1.39},{"p":"d3","l":6,"x":1.21,"y":1.51},
{"p":"d3","l":7,"x":1.3,"y":2},{"p":"d3","l":7,"x":0.78,"y":2.3},{"p":"d3","l":7,"x":0,"y":2.37},{"p":"d3","l":7,"x":-0.78,"y":2.3},{"p":"d3","l":7,"x":-1.3,"y":2},{"p":"d3","l":7,"x":-0.78,"y":1.7},{"p":"d3","l":7,"x":0,"y":1.63},{"p":"d3","l":7,"x":0.78,"y":1.7},
{"p":"e1","l":0,"x":6.84,"y":3.1},{"p":"e1","l":0,"x":4.1,"y":7.34},{"p":"e1","l":0,"x":0,"y":8.4},{"p":"e1","l":0,"x":-4.1,"y":7.34},{"p":"e1","l":0,"x":-6.84,"y":3.1},{"p":"e1","l":0,"x":-4.1,"y":0.52},{"p":"e1","l":0,"x":0,"y":0.23},{"p":"e1","l":0,"x":4.1,"y":0.52},
{"p":"e1","l":1,"x":5.75,"y":3.15},{"p":"e1","l":1,"x":3.45,"y":6.61},{"p":"e1","l":1,"x":0,"y":7.47},{"p":"e1","l":1,"x":-3.45,"y":6.61},{"p":"e1","l":1,"x":-5.75,"y":3.15},{"p":"e1","l":1,"x":-3.45,"y":0.63},{"p":"e1","l":1,"x":0,"y":0.35},{"p":"e1","l":1,"x":3.45,"y":0.63},
{"p":"e1","l":2,"x":5.13,"y":3.2},{"p":"e1","l":2,"x":3.08,"y":6.0},{"p":"e1","l":2,"x":0,"y":6.7},{"p":"e1","l":2,"x":-3.08,"y":6.0},{"p":"e1","l":2,"x":-5.13,"y":3.2},{"p":"e1","l":2,"x":-3.08,"y":0.82},{"p":"e1","l":2,"x":0,"y":0.5},{"p":"e1","l":2,"x":3.08,"y":0.82},
{"p":"e1","l":3,"x":4.58,"y":3.2},{"p":"e1","l":3,"x":2.75,"y":5.44},{"p":"e1","l":3,"x":0,"y":6.0},{"p":"e1","l":3,"x":-2.75,"y":5.44},{"p":"e1","l":3,"x":-4.58,"y":3.2},{"p":"e1","l":3,"x":-2.75,"y":0.96},{"p":"e1","l":3,"x":0,"y":0.65},{"p":"e1","l":3,"x":2.75,"y":0.96},
{"p":"e1","l":4,"x":4.1,"y":3.2},{"p":"e1","l":4,"x":2.46,"y":4.96},{"p":"e1","l":4,"x":0,"y":5.4},{"p":"e1","l":4,"x":-2.46,"y":4.96},{"p":"e1","l":4,"x":-4.1,"y":3.2},{"p":"e1","l":4,"x":-2.46,"y":1.09},{"p":"e1","l":4,"x":0,"y":0.8},{"p":"e1","l":4,"x":2.46,"y":1.09},
{"p":"e1","l":5,"x":3.56,"y":3.2},{"p":"e1","l":5,"x":2.14,"y":4.54},{"p":"e1","l":5,"x":0,"y":4.87},{"p":"e1","l":5,"x":-2.14,"y":4.54},{"p":"e1","l":5,"x":-3.56,"y":3.2},{"p":"e1","l":5,"x":-2.14,"y":1.31},{"p":"e1","l":5,"x":0,"y":1.0},{"p":"e1","l":5,"x":2.14,"y":1.31},
{"p":"e1","l":6,"x":3.01,"y":3.1},{"p":"e1","l":6,"x":1.81,"y":4.14},{"p":"e1","l":6,"x":0,"y":4.4},{"p":"e1","l":6,"x":-1.81,"y":4.14},{"p":"e1","l":6,"x":-3.01,"y":3.1},{"p":"e1","l":6,"x":-1.81,"y":1.63},{"p":"e1","l":6,"x":0,"y":1.35},{"p":"e1","l":6,"x":1.81,"y":1.63},
{"p":"e1","l":7,"x":2.05,"y":3.0},{"p":"e1","l":7,"x":1.23,"y":3.72},{"p":"e1","l":7,"x":0,"y":3.9},{"p":"e1","l":7,"x":-1.23,"y":3.72},{"p":"e1","l":7,"x":-2.05,"y":3.0},{"p":"e1","l":7,"x":-1.23,"y":2.24},{"p":"e1","l":7,"x":0,"y":2.05},{"p":"e1","l":7,"x":1.23,"y":2.24},
{"p":"e2","l":0,"x":6.8,"y":3.6},{"p":"e2","l":0,"x":4.08,"y":6.48},{"p":"e2","l":0,"x":0,"y":7.2},{"p":"e2","l":0,"x":-4.08,"y":6.48},{"p":"e2","l":0,"x":-6.8,"y":3.6},{"p":"e2","l":0,"x":-4.08,"y":0.72},{"p":"e2","l":0,"x":0,"y":0},{"p":"e2","l":0,"x":4.08,"y":0.72},
{"p":"e2","l":1,"x":5.73,"y":3.6},{"p":"e2","l":1,"x":3.44,"y":6.02},{"p":"e2","l":1,"x":0,"y":6.63},{"p":"e2","l":1,"x":-3.44,"y":6.02},{"p":"e2","l":1,"x":-5.73,"y":3.6},{"p":"e2","l":1,"x":-3.44,"y":1.18},{"p":"e2","l":1,"x":0,"y":0.57},{"p":"e2","l":1,"x":3.44,"y":1.18},
{"p":"e2","l":2,"x":5.06,"y":3.6},{"p":"e2","l":2,"x":3.04,"y":5.74},{"p":"e2","l":2,"x":0,"y":6.28},{"p":"e2","l":2,"x":-3.04,"y":5.74},{"p":"e2","l":2,"x":-5.06,"y":3.6},{"p":"e2","l":2,"x":-3.04,"y":1.46},{"p":"e2","l":2,"x":0,"y":0.92},{"p":"e2","l":2,"x":3.04,"y":1.46},
{"p":"e2","l":3,"x":4.45,"y":3.6},{"p":"e2","l":3,"x":2.67,"y":5.48},{"p":"e2","l":3,"x":0,"y":5.95},{"p":"e2","l":3,"x":-2.67,"y":5.48},{"p":"e2","l":3,"x":-4.45,"y":3.6},{"p":"e2","l":3,"x":-2.67,"y":1.72},{"p":"e2","l":3,"x":0,"y":1.25},{"p":"e2","l":3,"x":2.67,"y":1.72},
{"p":"e2","l":4,"x":3.89,"y":3.6},{"p":"e2","l":4,"x":2.33,"y":5.25},{"p":"e2","l":4,"x":0,"y":5.66},{"p":"e2","l":4,"x":-2.33,"y":5.25},{"p":"e2","l":4,"x":-3.89,"y":3.6},{"p":"e2","l":4,"x":-2.33,"y":1.95},{"p":"e2","l":4,"x":0,"y":1.54},{"p":"e2","l":4,"x":2.33,"y":1.95},
{"p":"e2","l":5,"x":3.3,"y":3.6},{"p":"e2","l":5,"x":1.98,"y":5.0},{"p":"e2","l":5,"x":0,"y":5.35},{"p":"e2","l":5,"x":-1.98,"y":5.0},{"p":"e2","l":5,"x":-3.3,"y":3.6},{"p":"e2","l":5,"x":-1.98,"y":2.2},{"p":"e2","l":5,"x":0,"y":1.85},{"p":"e2","l":5,"x":1.98,"y":2.2},
{"p":"e2","l":6,"x":2.52,"y":3.6},{"p":"e2","l":6,"x":1.51,"y":4.66},{"p":"e2","l":6,"x":0,"y":4.93},{"p":"e2","l":6,"x":-1.51,"y":4.66},{"p":"e2","l":6,"x":-2.52,"y":3.6},{"p":"e2","l":6,"x":-1.51,"y":2.54},{"p":"e2","l":6,"x":0,"y":2.27},{"p":"e2","l":6,"x":1.51,"y":2.54},
{"p":"e2","l":7,"x":1.37,"y":3.6},{"p":"e2","l":7,"x":0.82,"y":4.18},{"p":"e2","l":7,"x":0,"y":4.32},{"p":"e2","l":7,"x":-0.82,"y":4.18},{"p":"e2","l":7,"x":-1.37,"y":3.6},{"p":"e2","l":7,"x":-0.82,"y":3.02},{"p":"e2","l":7,"x":0,"y":2.88},{"p":"e2","l":7,"x":0.82,"y":3.02},
{"p":"e3","l":0,"x":6,"y":2.6},{"p":"e3","l":0,"x":3.6,"y":5.35},{"p":"e3","l":0,"x":0,"y":7.7},{"p":"e3","l":0,"x":-3.6,"y":5.35},{"p":"e3","l":0,"x":-6,"y":2.6},{"p":"e3","l":0,"x":-3.6,"y":-0.15},{"p":"e3","l":0,"x":0,"y":-2.5},{"p":"e3","l":0,"x":3.6,"y":-0.15},
{"p":"e3","l":1,"x":5.07,"y":2.6},{"p":"e3","l":1,"x":3.04,"y":4.44},{"p":"e3","l":1,"x":0,"y":5.66},{"p":"e3","l":1,"x":-3.04,"y":4.44},{"p":"e3","l":1,"x":-5.07,"y":2.6},{"p":"e3","l":1,"x":-3.04,"y":0.76},{"p":"e3","l":1,"x":0,"y":-0.46},{"p":"e3","l":1,"x":3.04,"y":0.76},
{"p":"e3","l":2,"x":4.42,"y":2.6},{"p":"e3","l":2,"x":2.65,"y":3.98},{"p":"e3","l":2,"x":0,"y":4.69},{"p":"e3","l":2,"x":-2.65,"y":3.98},{"p":"e3","l":2,"x":-4.42,"y":2.6},{"p":"e3","l":2,"x":-2.65,"y":1.22},{"p":"e3","l":2,"x":0,"y":0.51},{"p":"e3","l":2,"x":2.65,"y":1.22},
{"p":"e3","l":3,"x":3.85,"y":2.6},{"p":"e3","l":3,"x":2.31,"y":3.74},{"p":"e3","l":3,"x":0,"y":4.18},{"p":"e3","l":3,"x":-2.31,"y":3.74},{"p":"e3","l":3,"x":-3.85,"y":2.6},{"p":"e3","l":3,"x":-2.31,"y":1.46},{"p":"e3","l":3,"x":0,"y":1.02},{"p":"e3","l":3,"x":2.31,"y":1.46},
{"p":"e3","l":4,"x":3.4,"y":2.6},{"p":"e3","l":4,"x":2.04,"y":3.53},{"p":"e3","l":4,"x":0,"y":3.82},{"p":"e3","l":4,"x":-2.04,"y":3.53},{"p":"e3","l":4,"x":-3.4,"y":2.6},{"p":"e3","l":4,"x":-2.04,"y":1.67},{"p":"e3","l":4,"x":0,"y":1.38},{"p":"e3","l":4,"x":2.04,"y":1.67},
{"p":"e3","l":5,"x":2.88,"y":2.6},{"p":"e3","l":5,"x":1.73,"y":3.35},{"p":"e3","l":5,"x":0,"y":3.54},{"p":"e3","l":5,"x":-1.73,"y":3.35},{"p":"e3","l":5,"x":-2.88,"y":2.6},{"p":"e3","l":5,"x":-1.73,"y":1.85},{"p":"e3","l":5,"x":0,"y":1.66},{"p":"e3","l":5,"x":1.73,"y":1.85},
{"p":"e3","l":6,"x":2.23,"y":2.6},{"p":"e3","l":6,"x":1.34,"y":3.15},{"p":"e3","l":6,"x":0,"y":3.29},{"p":"e3","l":6,"x":-1.34,"y":3.15},{"p":"e3","l":6,"x":-2.23,"y":2.6},{"p":"e3","l":6,"x":-1.34,"y":2.05},{"p":"e3","l":6,"x":0,"y":1.91},{"p":"e3","l":6,"x":1.34,"y":2.05},
{"p":"e3","l":7,"x":1.44,"y":2.6},{"p":"e3","l":7,"x":0.86,"y":2.93},{"p":"e3","l":7,"x":0,"y":3.01},{"p":"e3","l":7,"x":-0.86,"y":2.93},{"p":"e3","l":7,"x":-1.44,"y":2.6},{"p":"e3","l":7,"x":-0.86,"y":2.27},{"p":"e3","l":7,"x":0,"y":2.19},{"p":"e3","l":7,"x":0.86,"y":2.27}
],
"bx":[
{"p":"a1","x":-9.09,"x2":8.86,"y":-13.0,"y2":-5.0},
{"p":"a2","x":-7.62,"x2":7.25,"y":-13.14,"y2":-6.44},
{"p":"a3","x":-7.72,"x2":7.42,"y":-13.23,"y2":-6.69},
{"p":"b1","x":-8.89,"x2":8.78,"y":-12.0,"y2":-4.82},
{"p":"b2","x":-7.49,"x2":7.94,"y":-12.07,"y2":-4.91},
{"p":"b3","x":-7.97,"x2":7.97,"y":-12.12,"y2":-4.85},
{"p":"c1","x":-8.98,"x2":9.35,"y":-11.7,"y2":-4.6},
{"p":"c2","x":-7.37,"x2":8.19,"y":-12.15,"y2":-5.01},
{"p":"c3","x":-7.76,"x2":8.63,"y":-13.53,"y2":-5.89},
{"p":"d1","x":-8.42,"x2":8.86,"y":-12.65,"y2":-5.18},
{"p":"d2","x":-7.63,"x2":8.64,"y":-12.78,"y2":-5.66},
{"p":"d3","x":-7.67,"x2":8.1,"y":-12.78,"y2":-5.01},
{"p":"e1","x":-8.99,"x2":9.1,"y":-15.43,"y2":-7.98},
{"p":"e2","x":-6.95,"x2":8.76,"y":-13.94,"y2":-7.83},
{"p":"e3","x":-8.16,"x2":6.86,"y":-15.0,"y2":-8.4}
],
"tx":[
{"p":"a1","x":-7.83,"y":-10.5,"t":"Type-1 waveguiding mode with"},{"p":"a1","x":-7.83,"y":-8.33,"t":"a₁=5.10, a₂=2.10, a₃=4.60, b=3.10"},
{"p":"a2","x":-6.33,"y":-10.7,"t":"LD’s EG beam with wₓ=5.10,"},{"p":"a2","x":-6.33,"y":-8.69,"t":"wᵧ=3.35, c=4.11"},
{"p":"a3","x":-6.6,"y":-10.46,"t":"LD’s GL beam with wₓ=5.10,"},{"p":"a3","x":-6.6,"y":-8.54,"t":"wᵧ=2.89, c=3.96"},
{"p":"b1","x":-7.61,"y":-9.4,"t":"Type-1 waveguiding mode with"},{"p":"b1","x":-7.61,"y":-7.17,"t":"a₁=5.00, a₂=2.10, a₃=5.00, b=3.00"},
{"p":"b2","x":-6.25,"y":-9.44,"t":"LD’s EG beam with wₓ=5.00,"},{"p":"b2","x":-6.25,"y":-7.25,"t":"wᵧ=3.55, c=4.17"},
{"p":"b3","x":-6.69,"y":-9.45,"t":"LD’s GL beam with wₓ=5.00,"},{"p":"b3","x":-6.69,"y":-7.23,"t":"wᵧ=3.07, c=4.00"},
{"p":"c1","x":-7.58,"y":-9.14,"t":"Type-1 waveguiding mode with"},{"p":"c1","x":-7.58,"y":-6.87,"t":"a₁=4.60, a₂=2.10, a₃=3.80, b=2.80"},
{"p":"c2","x":-6.07,"y":-9.47,"t":"LD’s EG beam with wₓ=4.60,"},{"p":"c2","x":-6.07,"y":-7.28,"t":"wᵧ=2.95, c=3.48"},
{"p":"c3","x":-6.35,"y":-10.68,"t":"LD’s GL beam with wₓ=4.60,"},{"p":"c3","x":-6.35,"y":-8.5,"t":"wᵧ=2.54, c=3.37"},
{"p":"d1","x":-7.6,"y":-10.0,"t":"Type-1 waveguiding mode with"},{"p":"d1","x":-7.6,"y":-7.7,"t":"a₁=3.50, a₂=2.10, a₃=2.00, b=2.71"},
{"p":"d2","x":-6.31,"y":-9.85,"t":"LD’s EG beam with wₓ=3.50,"},{"p":"d2","x":-6.31,"y":-7.84,"t":"wᵧ=2.05, c=2.67"},
{"p":"d3","x":-6.26,"y":-9.92,"t":"LD’s GL beam with wₓ=3.50,"},{"p":"d3","x":-6.26,"y":-7.82,"t":"wᵧ=1.80, c=2.00"},
{"p":"e1","x":-7.6,"y":-12.66,"t":"Type-2 waveguiding mode with"},{"p":"e1","x":-7.6,"y":-10.32,"t":"sₓ=4.414, sᵧ=4.217"},
{"p":"e2","x":-6.22,"y":-12.2,"t":"LD’s EG beam with wₓ=4.414,"},{"p":"e2","x":-6.22,"y":-10.2,"t":"wᵧ=2.723, c=3.389"},
{"p":"e3","x":-6.96,"y":-12.8,"t":"LD’s GL beam with wₓ=4.414,"},{"p":"e3","x":-6.96,"y":-10.46,"t":"wᵧ=2.371, c=3.300"}
]
},
"align":"none",
"spacing":39,
"vconcat":[
{"align":"none","spacing":55,"title":{"text":"(a)","orient":"bottom","offset":29},"hconcat":[
{"width":315,"height":252,"layer":[
{"data":{"name":"k"},"transform":[{"filter":"datum.p=='a1'"}],"mark":{"type":"line","interpolate":"cardinal-closed","strokeWidth":1.2},"encoding":{"x":{"field":"x","type":"quantitative","title":null,"scale":{"domain":[-10,10],"nice":false,"zero":false},"axis":{"values":[-10,-5,0,5,10],"tickCount":12,"labelOverlap":false}},"y":{"field":"y","type":"quantitative","title":null,"scale":{"domain":[-15,15],"nice":false,"zero":false,"reverse":true},"axis":{"values":[-15,-10,-5,0,5,10,15],"tickCount":12,"labelOverlap":false}},"color":{"field":"l","type":"ordinal","scale":{"scheme":"viridis"},"legend":null},"order":{"value":null}}},
{"data":{"name":"bx"},"transform":[{"filter":"datum.p=='a1'"}],"mark":{"type":"rect","fill":"#fff","stroke":"#000","strokeWidth":2},"encoding":{"x":{"field":"x","type":"quantitative","title":null},"x2":{"field":"x2"},"y":{"field":"y","type":"quantitative","title":null},"y2":{"field":"y2"}}},
{"data":{"name":"tx"},"transform":[{"filter":"datum.p=='a1'"}],"mark":{"type":"text","align":"left","baseline":"middle","font":"Liberation Serif","fontSize":16,"color":"#000"},"encoding":{"x":{"field":"x","type":"quantitative","title":null},"y":{"field":"y","type":"quantitative","title":null},"text":{"field":"t"}}}]},
{"width":310,"height":258,"layer":[
{"data":{"name":"k"},"transform":[{"filter":"datum.p=='a2'"}],"mark":{"type":"line","interpolate":"cardinal-closed","strokeWidth":1.2},"encoding":{"x":{"field":"x","type":"quantitative","title":null,"scale":{"domain":[-10,10],"nice":false,"zero":false},"axis":{"values":[-10,-5,0,5,10],"tickCount":12,"labelOverlap":false}},"y":{"field":"y","type":"quantitative","title":null,"scale":{"domain":[-15,15],"nice":false,"zero":false,"reverse":true},"axis":{"values":[-15,-10,-5,0,5,10,15],"tickCount":12,"labelOverlap":false}},"color":{"field":"l","type":"ordinal","scale":{"scheme":"viridis"},"legend":null},"order":{"value":null}}},
{"data":{"name":"bx"},"transform":[{"filter":"datum.p=='a2'"}],"mark":{"type":"rect","fill":"#fff","stroke":"#000","strokeWidth":2},"encoding":{"x":{"field":"x","type":"quantitative","title":null},"x2":{"field":"x2"},"y":{"field":"y","type":"quantitative","title":null},"y2":{"field":"y2"}}},
{"data":{"name":"tx"},"transform":[{"filter":"datum.p=='a2'"}],"mark":{"type":"text","align":"left","baseline":"middle","font":"Liberation Serif","fontSize":16,"color":"#000"},"encoding":{"x":{"field":"x","type":"quantitative","title":null},"y":{"field":"y","type":"quantitative","title":null},"text":{"field":"t"}}}]},
{"width":311,"height":260,"layer":[
{"data":{"name":"k"},"transform":[{"filter":"datum.p=='a3'"}],"mark":{"type":"line","interpolate":"cardinal-closed","strokeWidth":1.2},"encoding":{"x":{"field":"x","type":"quantitative","title":null,"scale":{"domain":[-10,10],"nice":false,"zero":false},"axis":{"values":[-10,-5,0,5,10],"tickCount":12,"labelOverlap":false}},"y":{"field":"y","type":"quantitative","title":null,"scale":{"domain":[-15,15],"nice":false,"zero":false,"reverse":true},"axis":{"values":[-15,-10,-5,0,5,10,15],"tickCount":12,"labelOverlap":false}},"color":{"field":"l","type":"ordinal","scale":{"scheme":"viridis"},"legend":null},"order":{"value":null}}},
{"data":{"name":"bx"},"transform":[{"filter":"datum.p=='a3'"}],"mark":{"type":"rect","fill":"#fff","stroke":"#000","strokeWidth":2},"encoding":{"x":{"field":"x","type":"quantitative","title":null},"x2":{"field":"x2"},"y":{"field":"y","type":"quantitative","title":null},"y2":{"field":"y2"}}},
{"data":{"name":"tx"},"transform":[{"filter":"datum.p=='a3'"}],"mark":{"type":"text","align":"left","baseline":"middle","font":"Liberation Serif","fontSize":16,"color":"#000"},"encoding":{"x":{"field":"x","type":"quantitative","title":null},"y":{"field":"y","type":"quantitative","title":null},"text":{"field":"t"}}}]}
]},
{"align":"none","spacing":22,"vconcat":[
{"align":"none","spacing":54,"title":{"text":"(b)","orient":"bottom","offset":10},"hconcat":[
{"width":316,"height":243,"layer":[
{"data":{"name":"k"},"transform":[{"filter":"datum.p=='b1'"}],"mark":{"type":"line","interpolate":"cardinal-closed","strokeWidth":1.2},"encoding":{"x":{"field":"x","type":"quantitative","title":null,"scale":{"domain":[-10,10],"nice":false,"zero":false},"axis":{"values":[-10,-5,0,5,10],"tickCount":12,"labelOverlap":false}},"y":{"field":"y","type":"quantitative","title":null,"scale":{"domain":[-15,15],"nice":false,"zero":false,"reverse":true},"axis":{"values":[-15,-10,-5,0,5,10,15],"tickCount":12,"labelOverlap":false}},"color":{"field":"l","type":"ordinal","scale":{"scheme":"viridis"},"legend":null},"order":{"value":null}}},
{"data":{"name":"bx"},"transform":[{"filter":"datum.p=='b1'"}],"mark":{"type":"rect","fill":"#fff","stroke":"#000","strokeWidth":2},"encoding":{"x":{"field":"x","type":"quantitative","title":null},"x2":{"field":"x2"},"y":{"field":"y","type":"quantitative","title":null},"y2":{"field":"y2"}}},
{"data":{"name":"tx"},"transform":[{"filter":"datum.p=='b1'"}],"mark":{"type":"text","align":"left","baseline":"middle","font":"Liberation Serif","fontSize":16,"color":"#000"},"encoding":{"x":{"field":"x","type":"quantitative","title":null},"y":{"field":"y","type":"quantitative","title":null},"text":{"field":"t"}}}]},
{"width":309,"height":243,"layer":[
{"data":{"name":"k"},"transform":[{"filter":"datum.p=='b2'"}],"mark":{"type":"line","interpolate":"cardinal-closed","strokeWidth":1.2},"encoding":{"x":{"field":"x","type":"quantitative","title":null,"scale":{"domain":[-10,10],"nice":false,"zero":false},"axis":{"values":[-10,-5,0,5,10],"tickCount":12,"labelOverlap":false,"labelExpr":"datum.value == -5 ? '5' : datum.label"}},"y":{"field":"y","type":"quantitative","title":null,"scale":{"domain":[-15,15],"nice":false,"zero":false,"reverse":true},"axis":{"values":[-15,-10,-5,0,5,10,15],"tickCount":12,"labelOverlap":false}},"color":{"field":"l","type":"ordinal","scale":{"scheme":"viridis"},"legend":null},"order":{"value":null}}},
{"data":{"name":"bx"},"transform":[{"filter":"datum.p=='b2'"}],"mark":{"type":"rect","fill":"#fff","stroke":"#000","strokeWidth":2},"encoding":{"x":{"field":"x","type":"quantitative","title":null},"x2":{"field":"x2"},"y":{"field":"y","type":"quantitative","title":null},"y2":{"field":"y2"}}},
{"data":{"name":"tx"},"transform":[{"filter":"datum.p=='b2'"}],"mark":{"type":"text","align":"left","baseline":"middle","font":"Liberation Serif","fontSize":16,"color":"#000"},"encoding":{"x":{"field":"x","type":"quantitative","title":null},"y":{"field":"y","type":"quantitative","title":null},"text":{"field":"t"}}}]},
{"width":314,"height":243,"layer":[
{"data":{"name":"k"},"transform":[{"filter":"datum.p=='b3'"}],"mark":{"type":"line","interpolate":"cardinal-closed","strokeWidth":1.2},"encoding":{"x":{"field":"x","type":"quantitative","title":null,"scale":{"domain":[-10,10],"nice":false,"zero":false},"axis":{"values":[-10,-5,0,5,10],"tickCount":12,"labelOverlap":false}},"y":{"field":"y","type":"quantitative","title":null,"scale":{"domain":[-15,15],"nice":false,"zero":false,"reverse":true},"axis":{"values":[-15,-10,-5,0,5,10,15],"tickCount":12,"labelOverlap":false}},"color":{"field":"l","type":"ordinal","scale":{"scheme":"viridis"},"legend":null},"order":{"value":null}}},
{"data":{"name":"bx"},"transform":[{"filter":"datum.p=='b3'"}],"mark":{"type":"rect","fill":"#fff","stroke":"#000","strokeWidth":2},"encoding":{"x":{"field":"x","type":"quantitative","title":null},"x2":{"field":"x2"},"y":{"field":"y","type":"quantitative","title":null},"y2":{"field":"y2"}}},
{"data":{"name":"tx"},"transform":[{"filter":"datum.p=='b3'"}],"mark":{"type":"text","align":"left","baseline":"middle","font":"Liberation Serif","fontSize":16,"color":"#000"},"encoding":{"x":{"field":"x","type":"quantitative","title":null},"y":{"field":"y","type":"quantitative","title":null},"text":{"field":"t"}}}]}
]},
{"align":"none","spacing":58,"vconcat":[
{"align":"none","spacing":54,"title":{"text":"(c)","orient":"bottom","offset":9},"hconcat":[
{"width":309,"height":242,"layer":[
{"data":{"name":"k"},"transform":[{"filter":"datum.p=='c1'"}],"mark":{"type":"line","interpolate":"cardinal-closed","strokeWidth":1.2},"encoding":{"x":{"field":"x","type":"quantitative","title":null,"scale":{"domain":[-10,10],"nice":false,"zero":false},"axis":{"values":[-10,-5,0,5,10],"tickCount":12,"labelOverlap":false}},"y":{"field":"y","type":"quantitative","title":null,"scale":{"domain":[-15,15],"nice":false,"zero":false,"reverse":true},"axis":{"values":[-15,-10,-5,0,5,10,15],"tickCount":12,"labelOverlap":false}},"color":{"field":"l","type":"ordinal","scale":{"scheme":"viridis"},"legend":null},"order":{"value":null}}},
{"data":{"name":"bx"},"transform":[{"filter":"datum.p=='c1'"}],"mark":{"type":"rect","fill":"#fff","stroke":"#000","strokeWidth":2},"encoding":{"x":{"field":"x","type":"quantitative","title":null},"x2":{"field":"x2"},"y":{"field":"y","type":"quantitative","title":null},"y2":{"field":"y2"}}},
{"data":{"name":"tx"},"transform":[{"filter":"datum.p=='c1'"}],"mark":{"type":"text","align":"left","baseline":"middle","font":"Liberation Serif","fontSize":16,"color":"#000"},"encoding":{"x":{"field":"x","type":"quantitative","title":null},"y":{"field":"y","type":"quantitative","title":null},"text":{"field":"t"}}}]},
{"width":310,"height":242,"layer":[
{"data":{"name":"k"},"transform":[{"filter":"datum.p=='c2'"}],"mark":{"type":"line","interpolate":"cardinal-closed","strokeWidth":1.2},"encoding":{"x":{"field":"x","type":"quantitative","title":null,"scale":{"domain":[-10,10],"nice":false,"zero":false},"axis":{"values":[-10,-5,0,5,10],"tickCount":12,"labelOverlap":false}},"y":{"field":"y","type":"quantitative","title":null,"scale":{"domain":[-15,15],"nice":false,"zero":false,"reverse":true},"axis":{"values":[-15,-10,-5,0,5,10,15],"tickCount":12,"labelOverlap":false}},"color":{"field":"l","type":"ordinal","scale":{"scheme":"viridis"},"legend":null},"order":{"value":null}}},
{"data":{"name":"bx"},"transform":[{"filter":"datum.p=='c2'"}],"mark":{"type":"rect","fill":"#fff","stroke":"#000","strokeWidth":2},"encoding":{"x":{"field":"x","type":"quantitative","title":null},"x2":{"field":"x2"},"y":{"field":"y","type":"quantitative","title":null},"y2":{"field":"y2"}}},
{"data":{"name":"tx"},"transform":[{"filter":"datum.p=='c2'"}],"mark":{"type":"text","align":"left","baseline":"middle","font":"Liberation Serif","fontSize":16,"color":"#000"},"encoding":{"x":{"field":"x","type":"quantitative","title":null},"y":{"field":"y","type":"quantitative","title":null},"text":{"field":"t"}}}]},
{"width":307,"height":238,"layer":[
{"data":{"name":"k"},"transform":[{"filter":"datum.p=='c3'"}],"mark":{"type":"line","interpolate":"cardinal-closed","strokeWidth":1.2},"encoding":{"x":{"field":"x","type":"quantitative","title":null,"scale":{"domain":[-10,10],"nice":false,"zero":false},"axis":{"values":[-10,-5,0,5,10],"tickCount":12,"labelOverlap":false}},"y":{"field":"y","type":"quantitative","title":null,"scale":{"domain":[-15,15],"nice":false,"zero":false,"reverse":true},"axis":{"values":[-15,-10,-5,0,5,10,15],"tickCount":12,"labelOverlap":false}},"color":{"field":"l","type":"ordinal","scale":{"scheme":"viridis"},"legend":null},"order":{"value":null}}},
{"data":{"name":"bx"},"transform":[{"filter":"datum.p=='c3'"}],"mark":{"type":"rect","fill":"#fff","stroke":"#000","strokeWidth":2},"encoding":{"x":{"field":"x","type":"quantitative","title":null},"x2":{"field":"x2"},"y":{"field":"y","type":"quantitative","title":null},"y2":{"field":"y2"}}},
{"data":{"name":"tx"},"transform":[{"filter":"datum.p=='c3'"}],"mark":{"type":"text","align":"left","baseline":"middle","font":"Liberation Serif","fontSize":16,"color":"#000"},"encoding":{"x":{"field":"x","type":"quantitative","title":null},"y":{"field":"y","type":"quantitative","title":null},"text":{"field":"t"}}}]}
]},
{"align":"none","spacing":68,"vconcat":[
{"align":"none","spacing":51,"title":{"text":"(d)","orient":"bottom","offset":24},"hconcat":[
{"width":312,"height":241,"layer":[
{"data":{"name":"k"},"transform":[{"filter":"datum.p=='d1'"}],"mark":{"type":"line","interpolate":"cardinal-closed","strokeWidth":1.2},"encoding":{"x":{"field":"x","type":"quantitative","title":null,"scale":{"domain":[-10,10],"nice":false,"zero":false},"axis":{"values":[-10,-5,0,5,10],"tickCount":12,"labelOverlap":false}},"y":{"field":"y","type":"quantitative","title":null,"scale":{"domain":[-15,15],"nice":false,"zero":false,"reverse":true},"axis":{"values":[-15,-10,-5,0,5,10,15],"tickCount":12,"labelOverlap":false}},"color":{"field":"l","type":"ordinal","scale":{"scheme":"viridis"},"legend":null},"order":{"value":null}}},
{"data":{"name":"bx"},"transform":[{"filter":"datum.p=='d1'"}],"mark":{"type":"rect","fill":"#fff","stroke":"#000","strokeWidth":2},"encoding":{"x":{"field":"x","type":"quantitative","title":null},"x2":{"field":"x2"},"y":{"field":"y","type":"quantitative","title":null},"y2":{"field":"y2"}}},
{"data":{"name":"tx"},"transform":[{"filter":"datum.p=='d1'"}],"mark":{"type":"text","align":"left","baseline":"middle","font":"Liberation Serif","fontSize":16,"color":"#000"},"encoding":{"x":{"field":"x","type":"quantitative","title":null},"y":{"field":"y","type":"quantitative","title":null},"text":{"field":"t"}}}]},
{"width":305,"height":239,"layer":[
{"data":{"name":"k"},"transform":[{"filter":"datum.p=='d2'"}],"mark":{"type":"line","interpolate":"cardinal-closed","strokeWidth":1.2},"encoding":{"x":{"field":"x","type":"quantitative","title":null,"scale":{"domain":[-10,10],"nice":false,"zero":false},"axis":{"values":[-10,-5,0,5,10],"tickCount":12,"labelOverlap":false}},"y":{"field":"y","type":"quantitative","title":null,"scale":{"domain":[-15,15],"nice":false,"zero":false,"reverse":true},"axis":{"values":[-15,-10,-5,0,5,10,15],"tickCount":12,"labelOverlap":false}},"color":{"field":"l","type":"ordinal","scale":{"scheme":"viridis"},"legend":null},"order":{"value":null}}},
{"data":{"name":"bx"},"transform":[{"filter":"datum.p=='d2'"}],"mark":{"type":"rect","fill":"#fff","stroke":"#000","strokeWidth":2},"encoding":{"x":{"field":"x","type":"quantitative","title":null},"x2":{"field":"x2"},"y":{"field":"y","type":"quantitative","title":null},"y2":{"field":"y2"}}},
{"data":{"name":"tx"},"transform":[{"filter":"datum.p=='d2'"}],"mark":{"type":"text","align":"left","baseline":"middle","font":"Liberation Serif","fontSize":16,"color":"#000"},"encoding":{"x":{"field":"x","type":"quantitative","title":null},"y":{"field":"y","type":"quantitative","title":null},"text":{"field":"t"}}}]},
{"width":306,"height":238,"layer":[
{"data":{"name":"k"},"transform":[{"filter":"datum.p=='d3'"}],"mark":{"type":"line","interpolate":"cardinal-closed","strokeWidth":1.2},"encoding":{"x":{"field":"x","type":"quantitative","title":null,"scale":{"domain":[-10,10],"nice":false,"zero":false},"axis":{"values":[-10,-5,0,5,10],"tickCount":12,"labelOverlap":false}},"y":{"field":"y","type":"quantitative","title":null,"scale":{"domain":[-15,15],"nice":false,"zero":false,"reverse":true},"axis":{"values":[-15,-10,-5,0,5,10,15],"tickCount":12,"labelOverlap":false}},"color":{"field":"l","type":"ordinal","scale":{"scheme":"viridis"},"legend":null},"order":{"value":null}}},
{"data":{"name":"bx"},"transform":[{"filter":"datum.p=='d3'"}],"mark":{"type":"rect","fill":"#fff","stroke":"#000","strokeWidth":2},"encoding":{"x":{"field":"x","type":"quantitative","title":null},"x2":{"field":"x2"},"y":{"field":"y","type":"quantitative","title":null},"y2":{"field":"y2"}}},
{"data":{"name":"tx"},"transform":[{"filter":"datum.p=='d3'"}],"mark":{"type":"text","align":"left","baseline":"middle","font":"Liberation Serif","fontSize":16,"color":"#000"},"encoding":{"x":{"field":"x","type":"quantitative","title":null},"y":{"field":"y","type":"quantitative","title":null},"text":{"field":"t"}}}]}
]},
{"align":"none","spacing":54,"title":{"text":"(e)","orient":"bottom","offset":13},"hconcat":[
{"width":306,"height":235,"layer":[
{"data":{"name":"k"},"transform":[{"filter":"datum.p=='e1'"}],"mark":{"type":"line","interpolate":"cardinal-closed","strokeWidth":1.2},"encoding":{"x":{"field":"x","type":"quantitative","title":null,"scale":{"domain":[-10,10],"nice":false,"zero":false},"axis":{"values":[-10,-5,0,5,10],"tickCount":12,"labelOverlap":false}},"y":{"field":"y","type":"quantitative","title":null,"scale":{"domain":[-15,15],"nice":false,"zero":false,"reverse":true},"axis":{"values":[-15,-10,-5,0,5,10,15],"tickCount":12,"labelOverlap":false}},"color":{"field":"l","type":"ordinal","scale":{"scheme":"viridis"},"legend":null},"order":{"value":null}}},
{"data":{"name":"bx"},"transform":[{"filter":"datum.p=='e1'"}],"mark":{"type":"rect","fill":"#fff","stroke":"#000","strokeWidth":2},"encoding":{"x":{"field":"x","type":"quantitative","title":null},"x2":{"field":"x2"},"y":{"field":"y","type":"quantitative","title":null},"y2":{"field":"y2"}}},
{"data":{"name":"tx"},"transform":[{"filter":"datum.p=='e1'"}],"mark":{"type":"text","align":"left","baseline":"middle","font":"Liberation Serif","fontSize":16,"color":"#000"},"encoding":{"x":{"field":"x","type":"quantitative","title":null},"y":{"field":"y","type":"quantitative","title":null},"text":{"field":"t"}}}]},
{"width":314,"height":254,"layer":[
{"data":{"name":"k"},"transform":[{"filter":"datum.p=='e2'"}],"mark":{"type":"line","interpolate":"cardinal-closed","strokeWidth":1.2},"encoding":{"x":{"field":"x","type":"quantitative","title":null,"scale":{"domain":[-10,10],"nice":false,"zero":false},"axis":{"values":[-10,-5,0,5,10],"tickCount":12,"labelOverlap":false}},"y":{"field":"y","type":"quantitative","title":null,"scale":{"domain":[-15,15],"nice":false,"zero":false,"reverse":true},"axis":{"values":[-15,-10,-5,0,5,10,15],"tickCount":12,"labelOverlap":false}},"color":{"field":"l","type":"ordinal","scale":{"scheme":"viridis"},"legend":null},"order":{"value":null}}},
{"data":{"name":"bx"},"transform":[{"filter":"datum.p=='e2'"}],"mark":{"type":"rect","fill":"#fff","stroke":"#000","strokeWidth":2},"encoding":{"x":{"field":"x","type":"quantitative","title":null},"x2":{"field":"x2"},"y":{"field":"y","type":"quantitative","title":null},"y2":{"field":"y2"}}},
{"data":{"name":"tx"},"transform":[{"filter":"datum.p=='e2'"}],"mark":{"type":"text","align":"left","baseline":"middle","font":"Liberation Serif","fontSize":16,"color":"#000"},"encoding":{"x":{"field":"x","type":"quantitative","title":null},"y":{"field":"y","type":"quantitative","title":null},"text":{"field":"t"}}}]},
{"width":316,"height":244,"layer":[
{"data":{"name":"k"},"transform":[{"filter":"datum.p=='e3'"}],"mark":{"type":"line","interpolate":"cardinal-closed","strokeWidth":1.2},"encoding":{"x":{"field":"x","type":"quantitative","title":null,"scale":{"domain":[-10,10],"nice":false,"zero":false},"axis":{"values":[-10,-5,0,5,10],"tickCount":12,"labelOverlap":false}},"y":{"field":"y","type":"quantitative","title":null,"scale":{"domain":[-15,15],"nice":false,"zero":false,"reverse":true},"axis":{"values":[-15,-10,-5,0,5,10,15],"tickCount":12,"labelOverlap":false}},"color":{"field":"l","type":"ordinal","scale":{"scheme":"viridis"},"legend":null},"order":{"value":null}}},
{"data":{"name":"bx"},"transform":[{"filter":"datum.p=='e3'"}],"mark":{"type":"rect","fill":"#fff","stroke":"#000","strokeWidth":2},"encoding":{"x":{"field":"x","type":"quantitative","title":null},"x2":{"field":"x2"},"y":{"field":"y","type":"quantitative","title":null},"y2":{"field":"y2"}}},
{"data":{"name":"tx"},"transform":[{"filter":"datum.p=='e3'"}],"mark":{"type":"text","align":"left","baseline":"middle","font":"Liberation Serif","fontSize":16,"color":"#000"},"encoding":{"x":{"field":"x","type":"quantitative","title":null},"y":{"field":"y","type":"quantitative","title":null},"text":{"field":"t"}}}]}
]}
]}
]}
]}
]
}
